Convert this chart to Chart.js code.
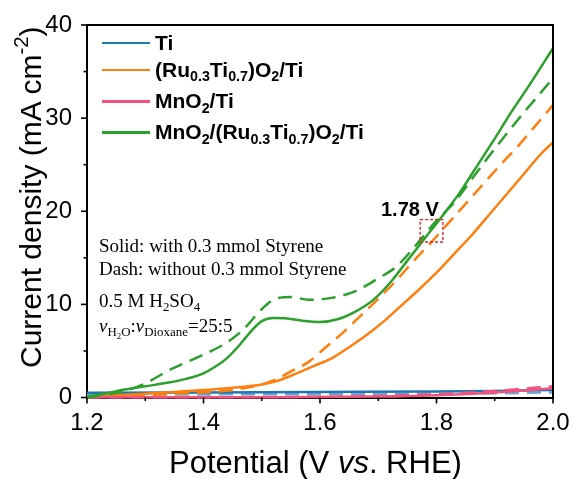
<!DOCTYPE html>
<html>
<head>
<meta charset="utf-8">
<script src="https://cdn.jsdelivr.net/npm/chart.js@4.4.0/dist/chart.umd.min.js"></script>
<style>
  html, body { margin: 0; padding: 0; background: #fff; }
  #wrap { position: relative; width: 572px; height: 479px; overflow: hidden; background: #fff; }
  #chart { position: absolute; left: 0; top: 0; }
  .txt { position: absolute; white-space: nowrap; line-height: 1; color: #000; }
  .sans { font-family: "Liberation Sans", Arial, sans-serif; }
  .serif { font-family: "Liberation Serif", "Times New Roman", serif; }
  .sb { font-size: 0.68em; position: relative; top: 0.32em; }
  .sp { font-size: 0.68em; position: relative; top: -0.62em; }
  .key { position: absolute; width: 48px; height: 2.5px; }
</style>
</head>
<body>
<div id="wrap">
  <canvas id="chart" width="572" height="479"></canvas>
  <div id="legend"></div>

  <div class="txt sans" id="ytitle" style="font-size:30px; left:16px; top:368px; transform:rotate(-90deg); transform-origin:0 0;">Current density (mA cm<span class="sp">-2</span>)</div>
  <div class="txt sans" style="font-size:31px; left:169px; top:447px;">Potential (V <i>vs</i>. RHE)</div>

  <div class="txt serif" style="font-size:19px; left:99px; top:236px;">Solid: with 0.3 mmol Styrene</div>
  <div class="txt serif" style="font-size:19px; left:99px; top:259px;">Dash: without 0.3 mmol Styrene</div>
  <div class="txt serif" style="font-size:19px; left:99px; top:291px;">0.5 M H<span class="sb">2</span>SO<span class="sb">4</span></div>
  <div class="txt serif" style="font-size:19px; left:99px; top:316px;"><i>v</i><span class="sb">H<span class="sb">2</span>O</span>:<i>v</i><span class="sb">Dioxane</span>=25:5</div>

  <div class="txt sans" style="font-size:20px; font-weight:bold; left:381px; top:199px;">1.78 V</div>
</div>

<script>
// Ti
var tiV = [1.2, 1.4, 1.6, 1.8, 1.9, 2.0];
var tiSolid = [0.5, 0.55, 0.6, 0.65, 0.7, 0.8];
var tiDashV = [1.2, 1.5, 1.8, 1.9, 2.0];
var tiDash = [0.3, 0.35, 0.4, 0.45, 0.55];

// MnO2/Ti
var mnV = [1.2, 1.5, 1.7, 1.8, 1.9, 1.95, 2.0];
var mnSolid = [0.02, 0.03, 0.1, 0.25, 0.55, 0.75, 1.0];
var mnDash = [0.02, 0.05, 0.15, 0.35, 0.7, 0.95, 1.2];

// (Ru0.3Ti0.7)O2/Ti
var ruV = [1.2, 1.25, 1.3, 1.35, 1.4, 1.45, 1.5, 1.53, 1.56, 1.59, 1.62, 1.65, 1.68, 1.71, 1.74, 1.77, 1.8, 1.83, 1.86, 1.89, 1.92, 1.95, 1.98, 2.0];
var ruSolid = [0.05, 0.25, 0.4, 0.6, 0.8, 1.05, 1.4, 1.85, 2.6, 3.4, 4.2, 5.4, 6.7, 8.2, 9.9, 11.6, 13.4, 15.4, 17.4, 19.6, 21.8, 24.0, 26.2, 27.4];
var ruDashV = [1.2, 1.25, 1.3, 1.35, 1.4, 1.45, 1.5, 1.53, 1.55, 1.58, 1.61, 1.64, 1.67, 1.7, 1.73, 1.76, 1.79, 1.82, 1.85, 1.88, 1.91, 1.94, 1.97, 2.0];
var ruDash = [0.0, 0.15, 0.25, 0.4, 0.55, 0.8, 1.4, 2.1, 2.8, 3.8, 5.4, 7.0, 8.8, 10.6, 12.5, 14.6, 16.6, 18.7, 20.8, 22.9, 25.0, 27.0, 29.2, 31.4];

// MnO2/(Ru0.3Ti0.7)O2/Ti
var mixV = [1.2, 1.23, 1.26, 1.3, 1.34, 1.37, 1.4, 1.42, 1.44, 1.46, 1.48, 1.5, 1.52, 1.54, 1.57, 1.6, 1.63, 1.66, 1.69, 1.72, 1.75, 1.78, 1.81, 1.84, 1.87, 1.9, 1.93, 1.96, 2.0];
var mixSolid = [0.1, 0.4, 0.8, 1.2, 1.6, 2.0, 2.6, 3.3, 4.2, 5.5, 7.0, 8.2, 8.55, 8.5, 8.25, 8.1, 8.4, 9.2, 10.4, 12.3, 14.7, 17.1, 19.5, 22.0, 24.9, 27.8, 30.8, 33.6, 37.5];
var mixDashV = [1.2, 1.22, 1.25, 1.27, 1.3, 1.34, 1.4, 1.44, 1.47, 1.5, 1.52, 1.55, 1.58, 1.62, 1.66, 1.7, 1.73, 1.76, 1.8, 1.83, 1.86, 1.89, 1.92, 1.95, 1.98, 2.0];
var mixDash = [0.0, 0.2, 0.5, 0.8, 1.5, 2.9, 4.6, 5.9, 7.4, 9.5, 10.5, 10.8, 10.5, 10.7, 11.4, 12.8, 14.0, 16.0, 19.0, 20.9, 23.4, 25.9, 28.3, 30.6, 32.8, 34.3];

var xMajor = [1.2, 1.4, 1.6, 1.8, 2.0];
var xTickLabels = ['1.2', '1.4', '1.6', '1.8', '2.0'];
var xMinor = [1.3, 1.5, 1.7, 1.9];
var yMajor = [0, 10, 20, 30, 40];
var yTickLabels = ['0', '10', '20', '30', '40'];
var yMinor = [5, 15, 25, 35];

var legendLabels = [
  'Ti',
  '(Ru<span class="sb">0.3</span>Ti<span class="sb">0.7</span>)O<span class="sb">2</span>/Ti',
  'MnO<span class="sb">2</span>/Ti',
  'MnO<span class="sb">2</span>/(Ru<span class="sb">0.3</span>Ti<span class="sb">0.7</span>)O<span class="sb">2</span>/Ti'
];
var legendColors = ['#1f77b4', '#ff7f0e', '#f2527d', '#2ca02c'];
var legendRows = [43, 70, 101.5, 132.5];

// dashed marker around 1.78 V
var boxV = [1.772, 1.811];
var boxJ = [16.7, 19.1];

function pairs(xs, ys) {
  return xs.map(function(x, i) { return { x: x, y: ys[i] }; });
}

function series(xs, ys, color, dashed) {
  return {
    data: pairs(xs, ys),
    borderColor: color,
    backgroundColor: color,
    borderWidth: 2.5,
    borderDash: dashed ? [14, 8] : [],
    pointRadius: 0,
    cubicInterpolationMode: 'monotone',
    fill: false,
    clip: 4
  };
}

// legend
var legendBox = document.getElementById('legend');
legendLabels.forEach(function(label, i) {
  var key = document.createElement('div');
  key.className = 'key';
  key.style.left = '102px';
  key.style.top = (legendRows[i] - 1.25) + 'px';
  key.style.background = legendColors[i];
  legendBox.appendChild(key);

  var t = document.createElement('div');
  t.className = 'txt sans';
  t.style.fontSize = '21px';
  t.style.fontWeight = 'bold';
  t.style.left = '155px';
  t.style.top = (legendRows[i] - 11.2) + 'px';
  t.innerHTML = label;
  legendBox.appendChild(t);
});

var framePlugin = {
  id: 'frame',
  afterDraw: function(chart) {
    var ctx = chart.ctx;
    var a = chart.chartArea;
    var xs = chart.scales.x;
    var ys = chart.scales.y;
    ctx.save();
    ctx.strokeStyle = '#000';
    ctx.lineWidth = 2;
    ctx.beginPath();
    ctx.moveTo(a.left - 1, a.top);
    ctx.lineTo(a.right, a.top);
    ctx.lineTo(a.right, a.bottom + 1);
    ctx.stroke();

    ctx.lineWidth = 1.6;
    function tick(x1, y1, x2, y2) {
      ctx.beginPath();
      ctx.moveTo(x1, y1);
      ctx.lineTo(x2, y2);
      ctx.stroke();
    }
    xMajor.forEach(function(v) {
      var px = xs.getPixelForValue(v);
      tick(px, a.bottom, px, a.bottom + 6);
    });
    xMinor.forEach(function(v) {
      var px = xs.getPixelForValue(v);
      tick(px, a.bottom, px, a.bottom + 3.5);
    });
    yMajor.forEach(function(v) {
      var py = ys.getPixelForValue(v);
      tick(a.left, py, a.left - 6, py);
    });
    yMinor.forEach(function(v) {
      var py = ys.getPixelForValue(v);
      tick(a.left, py, a.left - 3.5, py);
    });

    ctx.strokeStyle = '#e8202a';
    ctx.lineWidth = 1.4;
    ctx.setLineDash([3, 2]);
    var bx1 = xs.getPixelForValue(boxV[0]);
    var bx2 = xs.getPixelForValue(boxV[1]);
    var by1 = ys.getPixelForValue(boxJ[1]);
    var by2 = ys.getPixelForValue(boxJ[0]);
    ctx.strokeRect(bx1, by1, bx2 - bx1, by2 - by1);
    ctx.restore();
  }
};

var tickFont = { family: '"Liberation Sans", Arial, sans-serif', size: 24 };

new Chart(document.getElementById('chart').getContext('2d'), {
  type: 'line',
  data: {
    datasets: [
      series(mixV, mixSolid, legendColors[3], false),
      series(mixDashV, mixDash, legendColors[3], true),
      series(mnV, mnSolid, legendColors[2], false),
      series(mnV, mnDash, legendColors[2], true),
      series(ruV, ruSolid, legendColors[1], false),
      series(ruDashV, ruDash, legendColors[1], true),
      series(tiV, tiSolid, legendColors[0], false),
      series(tiDashV, tiDash, '#6fa8d6', true)
    ]
  },
  options: {
    responsive: false,
    animation: false,
    devicePixelRatio: 1,
    layout: { padding: { top: 25, right: 19, left: 0, bottom: 0 } },
    plugins: {
      legend: { display: false },
      tooltip: { enabled: false }
    },
    scales: {
      x: {
        type: 'linear',
        min: 1.2,
        max: 2.0,
        grid: { display: false, drawTicks: false },
        border: { display: true, color: '#000', width: 2 },
        afterBuildTicks: function(scale) {
          scale.ticks = xMajor.map(function(v) { return { value: v }; });
        },
        afterFit: function(scale) {
          scale.height = 81.5;
          scale.paddingLeft = 0;
          scale.paddingRight = 0;
        },
        ticks: {
          font: tickFont,
          color: '#000',
          padding: 11,
          maxRotation: 0,
          autoSkip: false,
          callback: function(v, i) { return xTickLabels[i]; }
        }
      },
      y: {
        type: 'linear',
        min: 0,
        max: 40,
        grid: { display: false, drawTicks: false },
        border: { display: true, color: '#000', width: 2 },
        afterBuildTicks: function(scale) {
          scale.ticks = yMajor.map(function(v) { return { value: v }; });
        },
        afterFit: function(scale) {
          scale.width = 87;
          scale.paddingTop = 0;
          scale.paddingBottom = 0;
        },
        ticks: {
          font: tickFont,
          color: '#000',
          padding: 15,
          autoSkip: false,
          callback: function(v, i) { return yTickLabels[i]; }
        }
      }
    }
  },
  plugins: [framePlugin]
});
</script>
</body>
</html>
